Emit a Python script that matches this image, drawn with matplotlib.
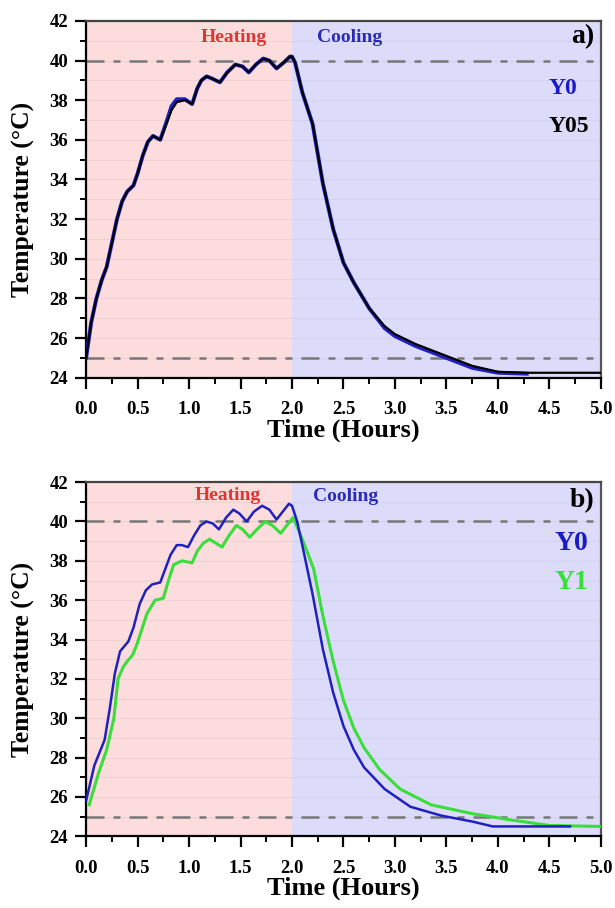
import matplotlib
matplotlib.use('Agg')
import matplotlib.pyplot as plt
from matplotlib.ticker import MultipleLocator

plt.rcParams['font.family'] = ['Liberation Serif', 'DejaVu Serif']
plt.rcParams['font.weight'] = 'bold'
plt.rcParams['axes.labelweight'] = 'bold'

# ---- panel a) data: Y0 (blue) and Y05 (black) ----
t_a_y05 = [0, 0.05, 0.1, 0.15, 0.2, 0.25, 0.3, 0.35, 0.4, 0.46, 0.5, 0.55, 0.6, 0.65,
           0.72, 0.78, 0.83, 0.88, 0.96, 1.03, 1.08, 1.12, 1.17, 1.22, 1.30, 1.37, 1.45,
           1.52, 1.58, 1.65, 1.72, 1.78, 1.85, 1.92, 1.98, 2.0, 2.03, 2.1, 2.2, 2.3, 2.4,
           2.5, 2.6, 2.75, 2.9, 3.0, 3.2, 3.5, 3.75, 4.0, 4.3, 5.0]
T_a_y05 = [25.0, 26.8, 28.0, 28.9, 29.6, 30.8, 32.0, 32.9, 33.4, 33.7, 34.3, 35.2, 35.9, 36.2,
           36.0, 36.8, 37.5, 37.9, 38.0, 37.8, 38.6, 39.0, 39.2, 39.1, 38.9, 39.4, 39.8,
           39.7, 39.4, 39.8, 40.1, 40.0, 39.6, 39.9, 40.2, 40.2, 39.9, 38.4, 36.8, 33.8, 31.5,
           29.8, 28.8, 27.5, 26.6, 26.2, 25.7, 25.1, 24.6, 24.3, 24.25, 24.25]

t_a_y0 = [0, 0.05, 0.1, 0.15, 0.2, 0.25, 0.3, 0.35, 0.4, 0.46, 0.5, 0.55, 0.6, 0.65,
          0.72, 0.78, 0.83, 0.88, 0.96, 1.03, 1.08, 1.12, 1.17, 1.22, 1.30, 1.37, 1.45,
          1.52, 1.58, 1.65, 1.72, 1.78, 1.85, 1.92, 1.98, 2.0, 2.03, 2.1, 2.2, 2.3, 2.4,
          2.5, 2.6, 2.75, 2.9, 3.0, 3.2, 3.5, 3.75, 4.0, 4.28]
T_a_y0 = [25.0, 26.8, 28.0, 28.9, 29.6, 30.8, 32.0, 32.9, 33.4, 33.7, 34.3, 35.2, 35.9, 36.2,
          36.0, 36.9, 37.7, 38.05, 38.05, 37.8, 38.6, 39.0, 39.2, 39.1, 38.9, 39.4, 39.8,
          39.7, 39.4, 39.8, 40.1, 40.0, 39.6, 39.9, 40.2, 40.2, 39.9, 38.4, 36.8, 33.8, 31.5,
          29.8, 28.8, 27.5, 26.5, 26.1, 25.6, 25.0, 24.5, 24.25, 24.2]

# ---- panel b) data: Y0 (blue) and Y1 (green) ----
t_b_y0 = [0, 0.08, 0.18, 0.23, 0.28, 0.33, 0.41, 0.46, 0.52, 0.58, 0.64, 0.72, 0.77, 0.82,
          0.88, 0.93, 0.99, 1.05, 1.11, 1.17, 1.23, 1.29, 1.36, 1.43, 1.49, 1.56, 1.63,
          1.71, 1.78, 1.85, 1.91, 1.97, 2.0, 2.05, 2.1, 2.2, 2.3, 2.4, 2.5, 2.6, 2.7, 2.9,
          3.15, 3.45, 3.75, 3.95, 4.7]
T_b_y0 = [25.8, 27.6, 28.9, 30.5, 32.3, 33.4, 33.9, 34.6, 35.8, 36.5, 36.8, 36.9, 37.6, 38.3,
          38.8, 38.8, 38.7, 39.3, 39.8, 40.0, 39.9, 39.6, 40.2, 40.6, 40.4, 40.0, 40.5,
          40.8, 40.6, 40.1, 40.5, 40.9, 40.8, 40.0, 38.8, 36.3, 33.5, 31.3, 29.6, 28.4, 27.5, 26.4,
          25.5, 25.05, 24.75, 24.5, 24.5]

t_b_y1 = [0.03, 0.12, 0.2, 0.27, 0.31, 0.36, 0.40, 0.45, 0.49, 0.54, 0.59, 0.67, 0.75, 0.8,
          0.85, 0.93, 1.03, 1.08, 1.14, 1.2, 1.26, 1.32, 1.39, 1.46, 1.52, 1.59, 1.66,
          1.74, 1.81, 1.89, 1.95, 2.01, 2.06, 2.13, 2.21, 2.3, 2.4, 2.5, 2.6, 2.7, 2.85,
          3.05, 3.35, 3.75, 4.1, 4.5, 5.0]
T_b_y1 = [25.6, 27.2, 28.4, 30.0, 32.0, 32.6, 32.9, 33.2, 33.7, 34.5, 35.3, 36.0, 36.1, 37.0,
          37.8, 38.0, 37.9, 38.5, 38.9, 39.1, 38.9, 38.7, 39.3, 39.8, 39.6, 39.2, 39.6,
          40.0, 39.8, 39.4, 39.8, 40.2, 39.6, 38.7, 37.6, 35.2, 32.9, 30.9, 29.5, 28.5, 27.4,
          26.4, 25.6, 25.15, 24.85, 24.55, 24.5]

t_switch = 2.0
ref_levels = [40, 25]

pink = '#fcdcdc'
lav = '#dcdcfa'
blue = '#2020c0'
green = '#3ade3a'


def setup(ax):
    ax.axvspan(0, t_switch, color=pink, lw=0, zorder=0)
    ax.axvspan(t_switch, 5, color=lav, lw=0, zorder=0)
    for lev in range(25, 42):
        ax.axhline(lev, color='#a898a8', lw=0.6, alpha=0.18, zorder=1)
    for lev in ref_levels:
        ax.axhline(lev, color='#777777', lw=1.8, ls=(0, (7.2, 3.6, 2.8, 3.6)), zorder=2)
    ax.set_xlim(0, 5)
    ax.set_ylim(24, 42)
    ax.xaxis.set_major_locator(MultipleLocator(0.5))
    ax.xaxis.set_minor_locator(MultipleLocator(0.25))
    ax.yaxis.set_major_locator(MultipleLocator(2))
    ax.yaxis.set_minor_locator(MultipleLocator(1))
    ax.tick_params(which='major', direction='out', length=8, width=1.6, labelsize=13.5)
    ax.tick_params(which='minor', direction='out', length=4.5, width=1.4)
    ax.tick_params(axis='x', which='major', pad=9)
    ax.tick_params(axis='y', which='major', pad=5)
    ax.xaxis.set_major_formatter(matplotlib.ticker.FormatStrFormatter('%.1f'))
    for s in ax.spines.values():
        s.set_linewidth(1.6)
    ax.spines['top'].set_color('#444444')
    ax.spines['right'].set_color('#555555')
    ax.set_xlabel('Time (Hours)', fontsize=19, labelpad=0)
    ax.set_ylabel('Temperature (°C)', fontsize=18.5, labelpad=10)


fig = plt.figure(figsize=(6.15, 9.08), dpi=100)
ax1 = fig.add_axes([0.140, 0.584, 0.837, 0.393])
ax2 = fig.add_axes([0.140, 0.079, 0.837, 0.390])

# panel a
setup(ax1)
ax1.plot(t_a_y0, T_a_y0, color=blue, lw=2.8, zorder=3)
ax1.plot(t_a_y05, T_a_y05, color='black', lw=1.6, zorder=4)
ax1.text(1.43, 41.15, 'Heating', color='#e03535', fontsize=14, ha='center', va='center')
ax1.text(2.24, 41.15, 'Cooling', color='#2a2ab8', fontsize=14, ha='left', va='center')
ax1.text(4.94, 41.2, 'a)', color='black', fontsize=20, ha='right', va='center')
ax1.text(4.49, 38.57, 'Y0', color='#1a1ac8', fontsize=17, ha='left', va='center')
ax1.text(4.49, 36.66, 'Y05', color='black', fontsize=17, ha='left', va='center')

# panel b
setup(ax2)
ax2.plot(t_b_y1, T_b_y1, color=green, lw=2.2, zorder=3)
ax2.plot(t_b_y0, T_b_y0, color=blue, lw=1.8, zorder=4)
ax2.text(1.38, 41.3, 'Heating', color='#e03535', fontsize=14, ha='center', va='center')
ax2.text(2.2, 41.25, 'Cooling', color='#2a2ab8', fontsize=14, ha='left', va='center')
ax2.text(4.94, 41.05, 'b)', color='black', fontsize=20, ha='right', va='center')
ax2.text(4.88, 38.87, 'Y0', color='#1a1ac8', fontsize=20, ha='right', va='center')
ax2.text(4.88, 36.9, 'Y1', color=green, fontsize=20, ha='right', va='center')

fig.savefig('out.png', dpi=100)
